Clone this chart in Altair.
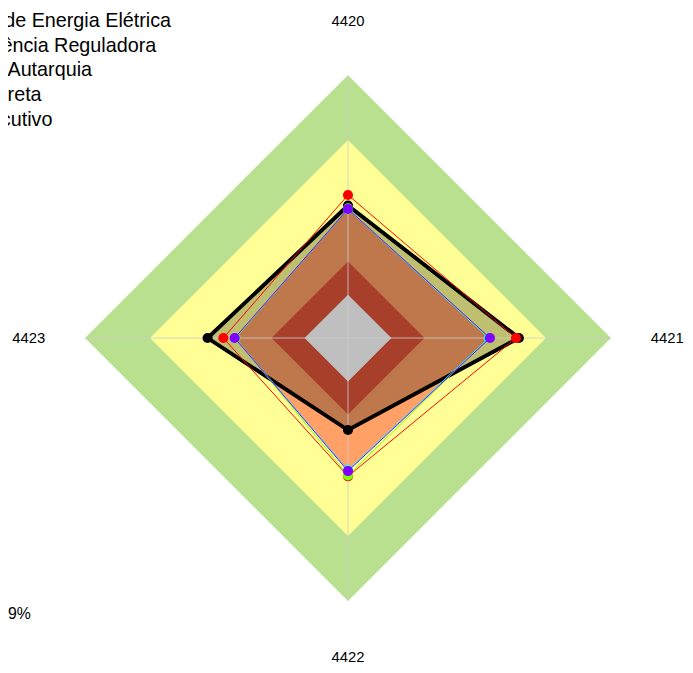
import altair as alt
import pandas as pd

# ---------------- data ----------------
axis_labels = ["4420", "4421", "4422", "4423"]
series_names = [
    "Agência Nacional de Energia Elétrica",
    "Agência Reguladora",
    "Autarquia",
    "Administração Indireta",
    "Poder Executivo",
]
series_colors = ["#000000", "#FF0000", "#80FF00", "#00FFFF", "#8000FF"]
values_aneel = [50.4, 65.0, 35.0, 53.4]
values_reguladora = [54.4, 63.9, 52.6, 47.4]
values_autarquia = [49.3, 53.6, 52.3, 42.8]
values_indireta = [49.0, 53.6, 50.2, 43.0]
values_executivo = [49.1, 54.0, 50.6, 43.1]
band_radii = [100.0, 75.3, 29.1, 16.5]
band_colors = ["#B8E08E", "#FFFF96", "#E0553A", "#FFFFFF"]
note_lines = ["Aprimorado", "70% a 99,9%"]

series_values = [values_aneel, values_reguladora, values_autarquia,
                 values_indireta, values_executivo]

# ---------------- geometry / layout ----------------
DIR = [(0, 1), (1, 0), (0, -1), (-1, 0)]   # spokes: top, right, bottom, left
LABEL_R = [120.7, 121.4, 121.4, 121.4]     # label distance along each spoke
W, H = 685, 665
CX, CY = 344, 330          # centre of radar in svg px
R_PX = 266                 # px for 100 %
u = 100.0 / R_PX
x_dom = [-CX * u, (W - CX) * u]
y_dom = [-(H - CY) * u, CY * u]
FONT = "Liberation Sans"


def X(f):
    return alt.X(f"{f}:Q", scale=alt.Scale(domain=x_dom, nice=False, zero=False), axis=None)


def Y(f):
    return alt.Y(f"{f}:Q", scale=alt.Scale(domain=y_dom, nice=False, zero=False), axis=None)


def area_df(vals):
    t, r, b, l = vals
    return pd.DataFrame({"x": [-l, 0, r], "y": [0, t, 0], "y2": [0, -b, 0]})


def ring_df(vals, closed=True):
    idx = [0, 1, 2, 3, 0] if closed else [0, 1, 2, 3]
    return pd.DataFrame({
        "x": [DIR[i][0] * vals[i] for i in idx],
        "y": [DIR[i][1] * vals[i] for i in idx],
        "seq": list(range(len(idx))),
    })


def area_layer(vals, color, opacity=1.0):
    return alt.Chart(area_df(vals)).mark_area(
        color=color, opacity=opacity, orient="vertical", interpolate="linear"
    ).encode(x=X("x"), y=Y("y"), y2=alt.Y2("y2:Q"))


layers = []
# background bands (outer green, yellow)
layers.append(area_layer([band_radii[0]] * 4, band_colors[0]))
layers.append(area_layer([band_radii[1]] * 4, band_colors[1]))
# orange fill of the comparison polygon
layers.append(area_layer(values_indireta, "#FFA066"))
# inner bands
layers.append(area_layer([band_radii[2]] * 4, band_colors[2]))
layers.append(area_layer([band_radii[3]] * 4, band_colors[3]))
# translucent fill of the main series
layers.append(area_layer(values_aneel, "#000000", 0.25))

# spokes
spokes = pd.DataFrame({
    "x": [0] * 4, "y": [0] * 4,
    "x2": [d[0] * band_radii[0] for d in DIR],
    "y2": [d[1] * band_radii[0] for d in DIR],
})
layers.append(alt.Chart(spokes).mark_rule(color="#CCCCCC", opacity=0.55, strokeWidth=1.5).encode(
    x=X("x"), y=Y("y"), x2=alt.X2("x2:Q"), y2=alt.Y2("y2:Q")))

# series lines and points
for k, (vals, col) in enumerate(zip(series_values, series_colors)):
    lw = 4 if k == 0 else 1
    layers.append(alt.Chart(ring_df(vals)).mark_line(color=col, strokeWidth=lw, strokeJoin="miter").encode(
        x=X("x"), y=Y("y"), order=alt.Order("seq:Q")))
    layers.append(alt.Chart(ring_df(vals, closed=False)).mark_circle(color=col, opacity=1, size=105).encode(
        x=X("x"), y=Y("y")))

# spoke labels
lab = pd.DataFrame({
    "t": axis_labels,
    "x": [d[0] * r for d, r in zip(DIR, LABEL_R)],
    "y": [d[1] * r for d, r in zip(DIR, LABEL_R)],
})
layers.append(alt.Chart(lab).mark_text(font=FONT, fontSize=15, color="black", align="center",
                                       baseline="middle").encode(x=X("x"), y=Y("y"), text="t:N"))

# legend (partially outside the page on the left)
leg_right = [165, 150, 85, 34, 45]
for i, name in enumerate(series_names):
    layers.append(alt.Chart(pd.DataFrame({"t": [name]})).mark_text(
        font=FONT, fontSize=20, color="black", align="right", baseline="alphabetic").encode(
        x=alt.value(leg_right[i]), y=alt.value(15.3 + 25 * i), text="t:N"))

# note at bottom-left
note_right = [-5, 23]
for i, line in enumerate(note_lines):
    layers.append(alt.Chart(pd.DataFrame({"t": [line]})).mark_text(
        font=FONT, fontSize=16, color="black", align="right", baseline="alphabetic").encode(
        x=alt.value(note_right[i]), y=alt.value(594 + 20 * i), text="t:N"))

chart = alt.layer(*layers).properties(
    width=W, height=H, padding=0, background="white",
    autosize=alt.AutoSizeParams(type="none"),
).configure_view(strokeWidth=0)

chart.save("out.html", embed_options={"renderer": "svg", "actions": False})
